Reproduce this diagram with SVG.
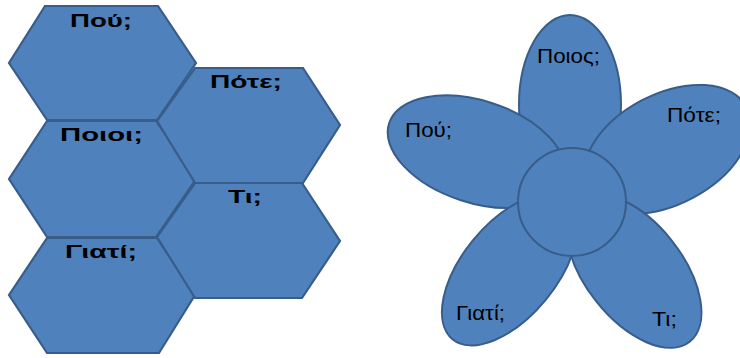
<svg xmlns="http://www.w3.org/2000/svg" width="740" height="358" viewBox="0 0 740 358">
  <style>
    .hex { fill: #4f81bd; stroke: #385d8a; stroke-width: 2.2; stroke-linejoin: miter; }
    .pet { fill: #4f81bd; stroke: #385d8a; stroke-width: 2; }
    .ht { font-family: "Liberation Sans", Arial, sans-serif; font-weight: bold; font-size: 18px; fill: #000; }
    .ft { font-family: "Liberation Sans", Arial, sans-serif; font-size: 21px; fill: #000; }
  </style>
  <rect width="740" height="358" fill="#ffffff"/>

  <g id="hex-pou">
    <polygon class="hex" points="45,6 158,6 196,63 157,120 47,120 9,63"/>
    <text class="ht" x="70" y="27" textLength="62" lengthAdjust="spacingAndGlyphs">Πού;</text>
  </g>
  <g id="hex-poioi">
    <polygon class="hex" points="47,121 156,121 196,179 156,237 47,237 9,179"/>
    <text class="ht" x="60" y="140.5" textLength="83" lengthAdjust="spacingAndGlyphs">Ποιοι;</text>
  </g>
  <g id="hex-giati">
    <polygon class="hex" points="47,238 157,238 195,295 159,353 47,353 9,295"/>
    <text class="ht" x="65" y="258" textLength="72" lengthAdjust="spacingAndGlyphs">Γιατί;</text>
  </g>
  <g id="hex-pote">
    <polygon class="hex" points="195,68 303,68 340,125 303,183 195,183 157,121"/>
    <text class="ht" x="210" y="88" textLength="72" lengthAdjust="spacingAndGlyphs">Πότε;</text>
  </g>
  <g id="hex-ti">
    <polygon class="hex" points="195,183 302,183 340,241 302,298 195,298 157,237"/>
    <text class="ht" x="228" y="203" textLength="34" lengthAdjust="spacingAndGlyphs">Τι;</text>
  </g>

  <g id="petal-poios">
    <ellipse class="pet" cx="570" cy="105" rx="51" ry="90"/>
  </g>
  <g id="petal-pou">
    <ellipse class="pet" cx="476.6" cy="151.7" rx="92" ry="51" transform="rotate(18 476.6 151.7)"/>
  </g>
  <g id="petal-pote">
    <ellipse class="pet" cx="667" cy="149.3" rx="90" ry="55" transform="rotate(-28 667 149.3)"/>
  </g>
  <g id="petal-giati">
    <ellipse class="pet" cx="509.6" cy="269.7" rx="90" ry="47" transform="rotate(-50.6 509.6 269.7)"/>
  </g>
  <g id="petal-ti">
    <ellipse class="pet" cx="634" cy="271" rx="90" ry="48.5" transform="rotate(51.8 634 271)"/>
  </g>
  <g id="flower-center">
    <circle class="pet" cx="572" cy="202" r="54"/>
  </g>

  <g id="flower-labels">
    <text class="ft" x="537" y="63" textLength="63" lengthAdjust="spacingAndGlyphs">Ποιος;</text>
    <text class="ft" x="405" y="137" textLength="47" lengthAdjust="spacingAndGlyphs">Πού;</text>
    <text class="ft" x="667" y="122" textLength="54" lengthAdjust="spacingAndGlyphs">Πότε;</text>
    <text class="ft" x="456" y="319.5" textLength="49" lengthAdjust="spacingAndGlyphs">Γιατί;</text>
    <text class="ft" x="652" y="326" textLength="25" lengthAdjust="spacingAndGlyphs">Τι;</text>
  </g>

  <g id="connectors"></g>
</svg>
